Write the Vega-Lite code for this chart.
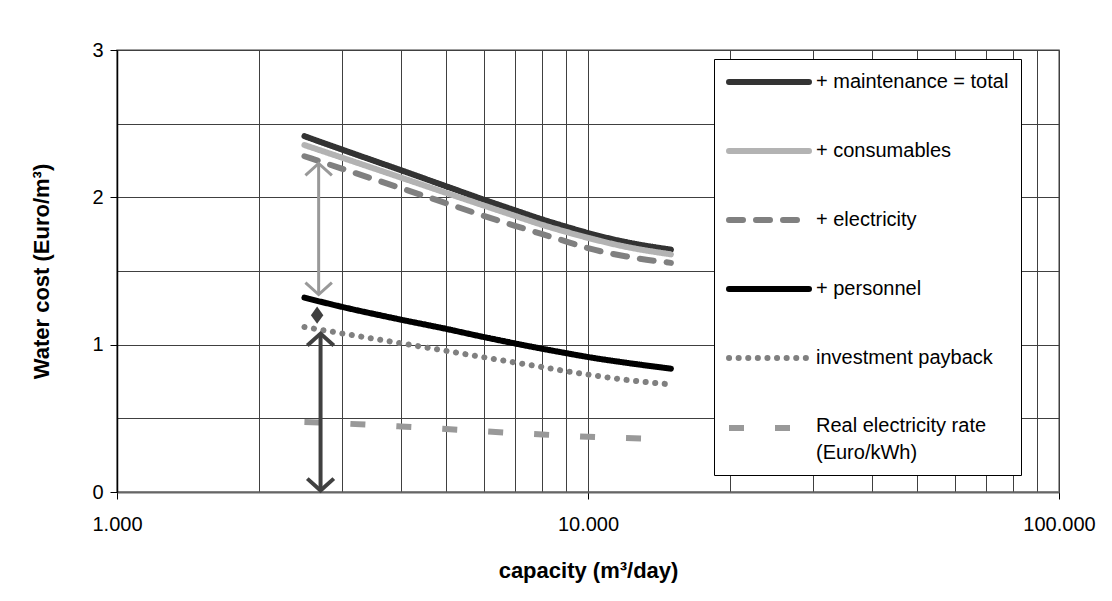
{
  "$schema": "https://vega.github.io/schema/vega-lite/v6.json",
  "width": 942,
  "height": 442,
  "autosize": {"type": "none"},
  "padding": {"left": 117, "top": 50, "right": 53, "bottom": 109},
  "background": "white",
  "config": {
    "font": "Liberation Sans",
    "view": {"stroke": "#808080", "strokeWidth": 1.5}
  },
  "datasets": {
    "costs": [
      {"cap": 2500, "series": "+ maintenance = total", "cost": 2.415},
      {"cap": 3000, "series": "+ maintenance = total", "cost": 2.325},
      {"cap": 4000, "series": "+ maintenance = total", "cost": 2.185},
      {"cap": 5000, "series": "+ maintenance = total", "cost": 2.075},
      {"cap": 6000, "series": "+ maintenance = total", "cost": 1.985},
      {"cap": 7000, "series": "+ maintenance = total", "cost": 1.912},
      {"cap": 8000, "series": "+ maintenance = total", "cost": 1.85},
      {"cap": 9000, "series": "+ maintenance = total", "cost": 1.8},
      {"cap": 10000, "series": "+ maintenance = total", "cost": 1.758},
      {"cap": 12000, "series": "+ maintenance = total", "cost": 1.697},
      {"cap": 15000, "series": "+ maintenance = total", "cost": 1.645},
      {"cap": 2500, "series": "+ consumables", "cost": 2.355},
      {"cap": 3000, "series": "+ consumables", "cost": 2.27},
      {"cap": 4000, "series": "+ consumables", "cost": 2.135},
      {"cap": 5000, "series": "+ consumables", "cost": 2.03},
      {"cap": 6000, "series": "+ consumables", "cost": 1.945},
      {"cap": 7000, "series": "+ consumables", "cost": 1.874},
      {"cap": 8000, "series": "+ consumables", "cost": 1.813},
      {"cap": 9000, "series": "+ consumables", "cost": 1.765},
      {"cap": 10000, "series": "+ consumables", "cost": 1.725},
      {"cap": 12000, "series": "+ consumables", "cost": 1.665},
      {"cap": 15000, "series": "+ consumables", "cost": 1.613},
      {"cap": 2500, "series": "+ electricity", "cost": 2.279},
      {"cap": 3000, "series": "+ electricity", "cost": 2.195},
      {"cap": 4000, "series": "+ electricity", "cost": 2.063},
      {"cap": 5000, "series": "+ electricity", "cost": 1.96},
      {"cap": 6000, "series": "+ electricity", "cost": 1.875},
      {"cap": 7000, "series": "+ electricity", "cost": 1.807},
      {"cap": 8000, "series": "+ electricity", "cost": 1.75},
      {"cap": 9000, "series": "+ electricity", "cost": 1.7},
      {"cap": 10000, "series": "+ electricity", "cost": 1.655},
      {"cap": 12000, "series": "+ electricity", "cost": 1.6},
      {"cap": 15000, "series": "+ electricity", "cost": 1.555},
      {"cap": 2500, "series": "+ personnel", "cost": 1.319},
      {"cap": 3000, "series": "+ personnel", "cost": 1.257},
      {"cap": 4000, "series": "+ personnel", "cost": 1.17},
      {"cap": 5000, "series": "+ personnel", "cost": 1.107},
      {"cap": 6000, "series": "+ personnel", "cost": 1.052},
      {"cap": 7000, "series": "+ personnel", "cost": 1.008},
      {"cap": 8000, "series": "+ personnel", "cost": 0.972},
      {"cap": 9000, "series": "+ personnel", "cost": 0.942},
      {"cap": 10000, "series": "+ personnel", "cost": 0.916},
      {"cap": 12000, "series": "+ personnel", "cost": 0.878},
      {"cap": 15000, "series": "+ personnel", "cost": 0.837},
      {"cap": 2500, "series": "investment payback", "cost": 1.12},
      {"cap": 3000, "series": "investment payback", "cost": 1.077},
      {"cap": 4000, "series": "investment payback", "cost": 1.01},
      {"cap": 5000, "series": "investment payback", "cost": 0.958},
      {"cap": 6000, "series": "investment payback", "cost": 0.915},
      {"cap": 7000, "series": "investment payback", "cost": 0.879},
      {"cap": 8000, "series": "investment payback", "cost": 0.848},
      {"cap": 9000, "series": "investment payback", "cost": 0.82},
      {"cap": 10000, "series": "investment payback", "cost": 0.797},
      {"cap": 12000, "series": "investment payback", "cost": 0.762},
      {"cap": 15000, "series": "investment payback", "cost": 0.73},
      {"cap": 2500, "series": "Real electricity rate (Euro/kWh)", "cost": 0.475},
      {"cap": 3000, "series": "Real electricity rate (Euro/kWh)", "cost": 0.465},
      {"cap": 4000, "series": "Real electricity rate (Euro/kWh)", "cost": 0.445},
      {"cap": 5000, "series": "Real electricity rate (Euro/kWh)", "cost": 0.427},
      {"cap": 6000, "series": "Real electricity rate (Euro/kWh)", "cost": 0.412},
      {"cap": 7000, "series": "Real electricity rate (Euro/kWh)", "cost": 0.4},
      {"cap": 8000, "series": "Real electricity rate (Euro/kWh)", "cost": 0.39},
      {"cap": 9000, "series": "Real electricity rate (Euro/kWh)", "cost": 0.382},
      {"cap": 10000, "series": "Real electricity rate (Euro/kWh)", "cost": 0.375},
      {"cap": 12000, "series": "Real electricity rate (Euro/kWh)", "cost": 0.366},
      {"cap": 15000, "series": "Real electricity rate (Euro/kWh)", "cost": 0.357}
    ]
  },
  "layer": [
    {
      "data": {"name": "costs"},
      "encoding": {
        "x": {
          "field": "cap", "type": "quantitative",
          "title": "capacity (m³/day)",
          "scale": {"type": "log", "domain": [1000, 100000]},
          "axis": {
            "values": [1000, 2000, 3000, 4000, 5000, 6000, 7000, 8000, 9000, 10000, 20000, 30000, 40000, 50000, 60000, 70000, 80000, 90000, 100000],
            "labelExpr": "datum.value == 1000 ? '1.000' : datum.value == 10000 ? '10.000' : datum.value == 100000 ? '100.000' : ''",
            "grid": true, "gridColor": "#404040", "gridWidth": 1,
            "tickSize": 7, "tickColor": "#000",
            "tickOpacity": {"condition": {"test": "datum.value == 1000 || datum.value == 10000 || datum.value == 100000", "value": 1}, "value": 0},
            "labelFontSize": 20, "labelPadding": 15, "labelColor": "#000",
            "labelFlush": false, "labelOverlap": false,
            "domainColor": "#666", "domainWidth": 2,
            "titleFontSize": 22, "titleFontWeight": "bold", "titleColor": "#000", "titlePadding": 26
          }
        },
        "y": {
          "field": "cost", "type": "quantitative",
          "title": "Water cost (Euro/m³)",
          "scale": {"domain": [0, 3], "nice": false},
          "axis": {
            "values": [0, 0.5, 1, 1.5, 2, 2.5, 3],
            "labelExpr": "datum.value % 1 == 0 ? '' + datum.value : ''",
            "grid": true, "gridColor": "#404040", "gridWidth": 1,
            "tickSize": 7, "tickColor": "#000",
            "tickOpacity": {"condition": {"test": "datum.value % 1 == 0", "value": 1}, "value": 0},
            "labelFontSize": 20, "labelPadding": 7, "labelColor": "#000",
            "labelFlush": false, "labelOverlap": false,
            "domainColor": "#000", "domainWidth": 1.5,
            "titleFontSize": 22, "titleFontWeight": "bold", "titleColor": "#000", "titlePadding": 38
          }
        },
        "color": {
          "field": "series", "type": "nominal",
          "scale": {
            "domain": ["+ maintenance = total", "+ consumables", "+ electricity", "+ personnel", "investment payback", "Real electricity rate (Euro/kWh)"],
            "range": ["#333333", "#b3b3b3", "#808080", "#000000", "#808080", "#999999"]
          },
          "legend": {
            "orient": "none", "legendX": 597, "legendY": 9,
            "title": null,
            "symbolType": "stroke", "symbolSize": 6400,
            "labelFontSize": 20, "labelColor": "#000", "labelOffset": 4, "labelLimit": 400,
            "padding": 12, "rowPadding": 47, "clipHeight": 22,
            "fillColor": "white", "strokeColor": "#000",
            "labelExpr": "datum.label == 'Real electricity rate (Euro/kWh)' ? ['Real electricity rate', '(Euro/kWh)'] : datum.label",
            "encode": {
              "symbols": {"update": {"strokeCap": {"signal": "datum.value == 'Real electricity rate (Euro/kWh)' ? 'butt' : 'round'"}, "opacity": {"value": 1}}},
              "labels": {"update": {
                "baseline": {"signal": "datum.value == 'Real electricity rate (Euro/kWh)' ? 'top' : 'middle'"},
                "dy": {"signal": "datum.value == 'Real electricity rate (Euro/kWh)' ? -12 : 0"},
                "lineHeight": {"value": 27}
              }}
            }
          }
        },
        "strokeDash": {
          "field": "series", "type": "nominal",
          "scale": {
            "domain": ["+ maintenance = total", "+ consumables", "+ electricity", "+ personnel", "investment payback", "Real electricity rate (Euro/kWh)"],
            "range": [[1, 0], [1, 0], [14, 13], [1, 0], [0.1, 9.5], [15, 31]]
          }
        },
        "strokeWidth": {
          "field": "series", "type": "nominal",
          "scale": {
            "domain": ["+ maintenance = total", "+ consumables", "+ electricity", "+ personnel", "investment payback", "Real electricity rate (Euro/kWh)"],
            "range": [6, 6, 5, 6, 5, 7]
          }
        }
      },
      "layer": [
        {
          "transform": [{"filter": "datum.series != 'Real electricity rate (Euro/kWh)'"}],
          "mark": {"type": "line", "strokeCap": "round", "interpolate": "monotone"}
        },
        {
          "transform": [{"filter": "datum.series == 'Real electricity rate (Euro/kWh)'"}],
          "mark": {"type": "line", "strokeCap": "butt", "interpolate": "monotone"}
        }
      ]
    },
    {
      "data": {"values": [{"cap": 2680, "cost": 1.34, "cost2": 2.23}]},
      "layer": [
        {
          "mark": {"type": "rule", "color": "#999999", "strokeWidth": 3},
          "encoding": {
            "x": {"field": "cap", "type": "quantitative"},
            "y": {"field": "cost", "type": "quantitative"},
            "y2": {"field": "cost2"}
          }
        },
        {
          "mark": {"type": "point", "shape": "M-1,0.9L0,0L1,0.9", "filled": false, "stroke": "#999999", "strokeWidth": 3, "size": 700, "opacity": 1},
          "encoding": {
            "x": {"field": "cap", "type": "quantitative"},
            "y": {"field": "cost2", "type": "quantitative"}
          }
        },
        {
          "mark": {"type": "point", "shape": "M-1,-0.9L0,0L1,-0.9", "filled": false, "stroke": "#999999", "strokeWidth": 3, "size": 700, "opacity": 1},
          "encoding": {
            "x": {"field": "cap", "type": "quantitative"},
            "y": {"field": "cost", "type": "quantitative"}
          }
        }
      ]
    },
    {
      "data": {"values": [{"cap": 2705, "cost": 0.01, "cost2": 1.075}]},
      "layer": [
        {
          "mark": {"type": "rule", "color": "#404040", "strokeWidth": 4},
          "encoding": {
            "x": {"field": "cap", "type": "quantitative"},
            "y": {"field": "cost", "type": "quantitative"},
            "y2": {"field": "cost2"}
          }
        },
        {
          "mark": {"type": "point", "shape": "M-1,0.9L0,0L1,0.9", "filled": false, "stroke": "#404040", "strokeWidth": 4, "size": 700, "opacity": 1},
          "encoding": {
            "x": {"field": "cap", "type": "quantitative"},
            "y": {"field": "cost2", "type": "quantitative"}
          }
        },
        {
          "mark": {"type": "point", "shape": "M-1,-0.9L0,0L1,-0.9", "filled": false, "stroke": "#404040", "strokeWidth": 4, "size": 700, "opacity": 1},
          "encoding": {
            "x": {"field": "cap", "type": "quantitative"},
            "y": {"field": "cost", "type": "quantitative"}
          }
        }
      ]
    },
    {
      "data": {"values": [{"cap": 2660, "cost": 1.2}]},
      "mark": {"type": "point", "shape": "M0,-1L0.72,0L0,1L-0.72,0Z", "filled": true, "color": "#404040", "size": 300, "opacity": 1},
      "encoding": {
        "x": {"field": "cap", "type": "quantitative"},
        "y": {"field": "cost", "type": "quantitative"}
      }
    }
  ]
}
